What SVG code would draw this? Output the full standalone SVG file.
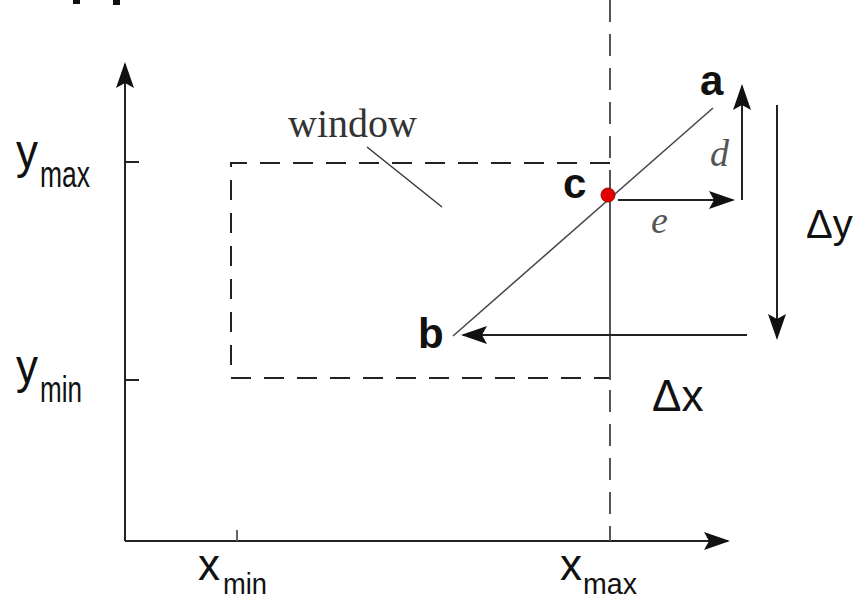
<svg xmlns="http://www.w3.org/2000/svg" width="855" height="602" viewBox="0 0 855 602">
<style>
.ax{stroke:#222;stroke-width:2;fill:none}
.thin{stroke:#444;stroke-width:1.5;fill:none}
.dash{stroke:#222;stroke-width:2;fill:none;stroke-dasharray:20 13}
.gdash{stroke:#555;stroke-width:2;fill:none;stroke-dasharray:22 12}
.arr{stroke:#222;stroke-width:2;fill:none}
.sans{font-family:"Liberation Sans",Arial,sans-serif;fill:#111}
.bold{font-family:"Liberation Sans",Arial,sans-serif;font-weight:bold;fill:#111;font-size:42px}
.ital{font-family:"Liberation Serif","Times New Roman",serif;font-style:italic;fill:#555;font-size:38px}
</style>
<defs>
<marker id="ah" viewBox="0 0 26 18" refX="24" refY="9" markerWidth="26" markerHeight="18" markerUnits="userSpaceOnUse" orient="auto">
<path d="M0,0 L26,9 L0,18 L5,9 Z" fill="#111"/>
</marker>
</defs>
<rect x="0" y="0" width="855" height="602" fill="#fff"/>
<rect x="73" y="0" width="7" height="4" fill="#111"/>
<rect x="113" y="0" width="7" height="5" fill="#111"/>

<g id="axes">
<line class="ax" x1="125" y1="541" x2="125" y2="64" marker-end="url(#ah)"/>
<line class="ax" x1="125" y1="541" x2="728" y2="541" marker-end="url(#ah)"/>
<line class="ax" x1="125" y1="162" x2="139" y2="162"/>
<line class="ax" x1="125" y1="380" x2="139" y2="380"/>
<line x1="237" y1="541" x2="237" y2="530" stroke="#666" stroke-width="2"/>
</g>

<g id="axis-labels">
<text class="sans" x="16" y="168" font-size="48" textLength="22" lengthAdjust="spacingAndGlyphs">y</text>
<text class="sans" x="40" y="187" font-size="36" textLength="50" lengthAdjust="spacingAndGlyphs">max</text>
<text class="sans" x="16" y="383" font-size="48" textLength="22" lengthAdjust="spacingAndGlyphs">y</text>
<text class="sans" x="40" y="402" font-size="36" textLength="42" lengthAdjust="spacingAndGlyphs">min</text>
<text class="sans" x="198" y="580" font-size="44" textLength="22" lengthAdjust="spacingAndGlyphs">x</text>
<text class="sans" x="223" y="594" font-size="30" textLength="44" lengthAdjust="spacingAndGlyphs">min</text>
<text class="sans" x="560" y="580" font-size="44" textLength="22" lengthAdjust="spacingAndGlyphs">x</text>
<text class="sans" x="583" y="594" font-size="30" textLength="54" lengthAdjust="spacingAndGlyphs">max</text>
</g>

<g id="window">
<path class="dash" d="M610,163 L231,163 L231,378 L610,378"/>
<line class="gdash" x1="610" y1="0" x2="610" y2="192"/>
<line x1="610" y1="196" x2="610" y2="380" stroke="#555" stroke-width="2"/>
<line class="gdash" x1="610" y1="390" x2="610" y2="541"/>
<text x="288" y="137" font-family="'Liberation Serif','Times New Roman',serif" font-size="40" fill="#333">window</text>
<line x1="367" y1="147" x2="442" y2="207" stroke="#333" stroke-width="1.5"/>
</g>

<g id="segment">
<line class="thin" x1="713" y1="108" x2="453" y2="336"/>
</g>

<g id="point-a"><text class="bold" x="700" y="95">a</text></g>
<g id="point-b"><text class="bold" x="418" y="348">b</text></g>
<g id="point-c">
<text class="bold" x="563" y="198">c</text>
<circle cx="608" cy="195" r="7" fill="#e00000" stroke="#a00" stroke-width="1"/>
</g>

<g id="connectors">
<line class="arr" x1="618" y1="200" x2="733" y2="200" marker-end="url(#ah)"/>
<line class="arr" x1="742" y1="200" x2="742" y2="86" marker-end="url(#ah)"/>
<line class="arr" x1="777" y1="105" x2="777" y2="338" marker-end="url(#ah)"/>
<line class="arr" x1="747" y1="335" x2="463" y2="335" marker-end="url(#ah)"/>
</g>

<g id="labels">
<text class="ital" x="710" y="166">d</text>
<text class="ital" x="651" y="233">e</text>
<text class="sans" x="806" y="238" font-size="40">Δy</text>
<text class="sans" x="652" y="411" font-size="44">Δx</text>
</g>
</svg>
